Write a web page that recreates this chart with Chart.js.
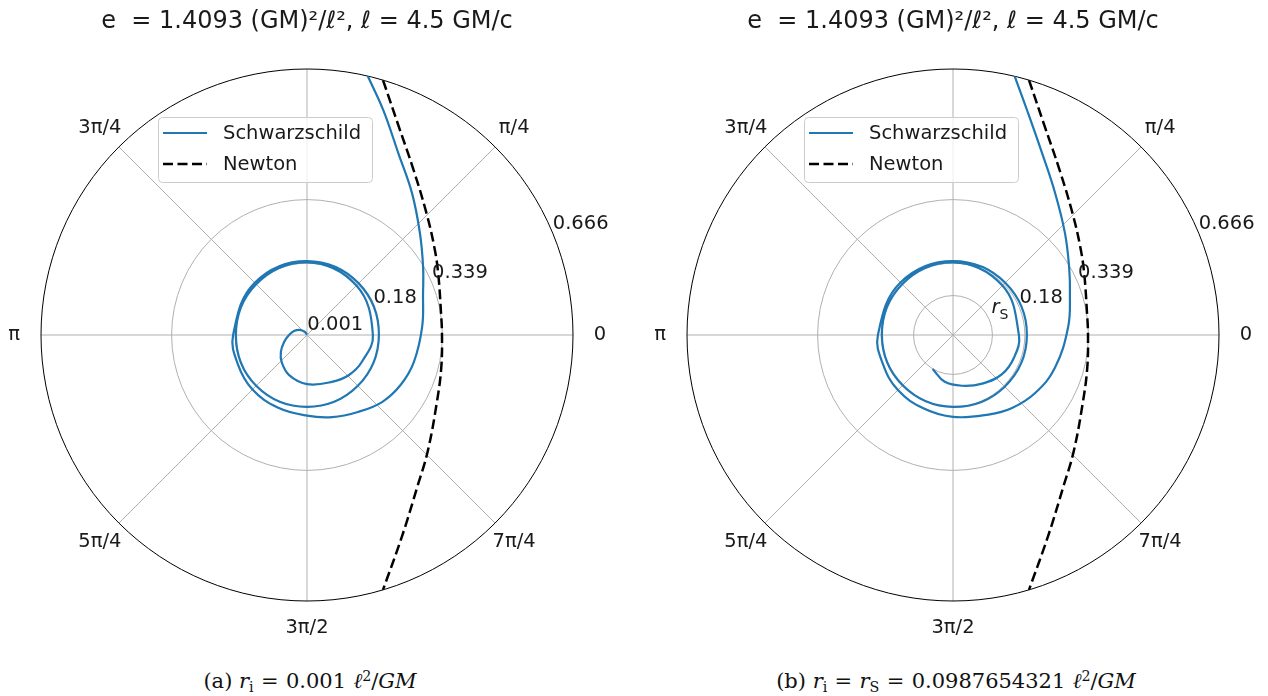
<!DOCTYPE html>
<html>
<head>
<meta charset="utf-8">
<script src="https://cdn.jsdelivr.net/npm/chart.js@4.4.1/dist/chart.umd.min.js"></script>
<style>
  html, body { margin: 0; padding: 0; background: #fff; }
  body { width: 1268px; height: 696px; position: relative; overflow: hidden; }
  .panel { position: absolute; top: 0; width: 620px; height: 640px; }
  .caption { position: absolute; top: 668px; width: 620px; text-align: center;
             font-family: 'DejaVu Serif', 'Liberation Serif', serif; font-size: 21px;
             line-height: 26px; color: #111; white-space: nowrap; }
  .caption sub, .caption sup { font-size: 0.68em; line-height: 0; position: relative; vertical-align: baseline; font-style: normal; }
  .caption sub { top: 0.3em; }
  .caption sup { top: -0.5em; }
  .caption .eq { margin: 0 0.35em; }
  .caption .sp { margin-left: 0.35em; }
</style>
</head>
<body>
<div class="panel" style="left:0"><canvas id="chartA" width="620" height="640"></canvas></div>
<div class="panel" style="left:646px"><canvas id="chartB" width="620" height="640"></canvas></div>
<div class="caption" style="left:0">(a) <i>r</i><sub>i</sub><span class="eq">=</span>0.001<i class="sp">ℓ</i><sup>2</sup>/<i>GM</i></div>
<div class="caption" style="left:646px">(b) <i>r</i><sub>i</sub><span class="eq">=</span><i>r</i><sub>S</sub><span class="eq">=</span>0.0987654321<i class="sp">ℓ</i><sup>2</sup>/<i>GM</i></div>
<script>
// values (angles in degrees, r in units of l^2/GM)
var titleText = 'e  = 1.4093 (GM)²/ℓ², ℓ = 4.5 GM/c';
var rMax = 0.666;
var thetaTicks = [0, 45, 135, 180, 225, 270, 315];
var thetaLabels = ['0', 'π/4', '3π/4', 'π', '5π/4', '3π/2', '7π/4'];
var rTicksA = [0.001, 0.18, 0.339, 0.666];
var rLabelsA = ['0.001', '0.18', '0.339', '0.666'];
var rTicksB = [0.0987654321, 0.18, 0.339, 0.666];
var rLabelsB = ['r_S', '0.18', '0.339', '0.666'];

var newtonTheta = [73.4, 66.4, 57.3, 45.5, 34.5, 25.2, 9.3, 0, -13.7, -27.3, -44.0, -53.7, -64.6, -73.4];
var newtonR = [0.666, 0.572, 0.493, 0.427, 0.387, 0.363, 0.340, 0.338, 0.346, 0.366, 0.420, 0.468, 0.556, 0.666];

var schwThetaA = [76.8, 71.3, 63.4, 53.5, 42.1, 30.4, 19.9, 4.0, -14.3, -27.8, -41.8, -56.5, -73.0, -90,
  -112, -135, -157, -180, -225, -270, -315, -360, -405, -450, -495, -540, -585, -630, -675, -720,
  -746, -764, -782, -810, -834, -853, -867, -883, -900, -917, -936, -956, -975];
var schwRA = [0.666, 0.595, 0.510, 0.442, 0.381, 0.337, 0.309, 0.289, 0.276, 0.266, 0.252, 0.231, 0.215, 0.202,
  0.196, 0.193, 0.188, 0.185, 0.185, 0.185, 0.183, 0.180, 0.180, 0.180, 0.180, 0.178, 0.180, 0.182, 0.175, 0.165,
  0.153, 0.145, 0.133, 0.123, 0.110, 0.093, 0.078, 0.060, 0.045, 0.034, 0.022, 0.009, 0.001];

var schwThetaB = [76.6, 71.8, 63.9, 54.3, 42.3, 30.4, 19.7, 4.0, -18, -35, -51, -66, -90,
  -112, -135, -157, -180, -225, -270, -315, -360, -405, -450, -495, -540, -585, -630, -675, -720,
  -740, -759, -779, -800, -820, -841];
var schwRB = [0.666, 0.593, 0.507, 0.438, 0.379, 0.337, 0.311, 0.289, 0.268, 0.252, 0.235, 0.218, 0.205,
  0.198, 0.195, 0.190, 0.188, 0.186, 0.185, 0.185, 0.185, 0.183, 0.180, 0.178, 0.178, 0.180, 0.182, 0.175, 0.165,
  0.163, 0.157, 0.142, 0.129, 0.119, 0.099];

function toXY(thetas, rs) {
  return thetas.map(function (t, i) {
    var a = t * Math.PI / 180;
    return { x: rs[i] * Math.cos(a), y: rs[i] * Math.sin(a) };
  });
}

var FONT = 'DejaVu Sans';
var TXT = '#1a1a1a';

var polarFrame = {
  id: 'polarFrame',
  beforeDatasetsDraw: function (chart, args, opts) {
    var ctx = chart.ctx, xs = chart.scales.x, ys = chart.scales.y;
    var cx = xs.getPixelForValue(0), cy = ys.getPixelForValue(0);
    var R = xs.getPixelForValue(rMax) - cx;
    ctx.save();
    ctx.strokeStyle = '#b0b0b0';
    ctx.lineWidth = 1;
    for (var a = 0; a < 360; a += 45) {
      var rad = a * Math.PI / 180;
      ctx.beginPath();
      ctx.moveTo(cx, cy);
      ctx.lineTo(cx + R * Math.cos(rad), cy - R * Math.sin(rad));
      ctx.stroke();
    }
    opts.rTicks.forEach(function (t) {
      if (t >= rMax) return;
      ctx.beginPath();
      ctx.arc(cx, cy, xs.getPixelForValue(t) - cx, 0, 2 * Math.PI);
      ctx.stroke();
    });
    ctx.strokeStyle = '#000';
    ctx.beginPath();
    ctx.arc(cx, cy, R, 0, 2 * Math.PI);
    ctx.stroke();
    ctx.restore();
    // clip the curves to the outer circle
    ctx.save();
    ctx.beginPath();
    ctx.arc(cx, cy, R, 0, 2 * Math.PI);
    ctx.clip();
  },
  afterDatasetsDraw: function (chart, args, opts) {
    var ctx = chart.ctx, xs = chart.scales.x, ys = chart.scales.y;
    ctx.restore();
    var cx = xs.getPixelForValue(0), cy = ys.getPixelForValue(0);
    var R = xs.getPixelForValue(rMax) - cx;
    ctx.save();
    ctx.fillStyle = TXT;
    ctx.font = '19.5px "' + FONT + '"';
    ctx.textAlign = 'center';
    ctx.textBaseline = 'middle';
    thetaTicks.forEach(function (t, i) {
      var rad = t * Math.PI / 180, d = R + 27;
      ctx.fillText(thetaLabels[i], cx + d * Math.cos(rad), cy - d * Math.sin(rad));
    });
    // radial labels along 22.5 deg
    ctx.textAlign = 'left';
    ctx.textBaseline = 'bottom';
    var la = 22.5 * Math.PI / 180;
    opts.rTicks.forEach(function (t, i) {
      var d = xs.getPixelForValue(t) - cx;
      var px = cx + d * Math.cos(la), py = cy - d * Math.sin(la);
      var lab = opts.rLabels[i];
      if (lab.indexOf('_') > 0) {
        var parts = lab.split('_');
        ctx.font = 'italic 19.5px "' + FONT + '"';
        ctx.fillText(parts[0], px + 2, py - 2);
        var w = ctx.measureText(parts[0]).width;
        ctx.font = '14px "' + FONT + '"';
        ctx.fillText(parts[1], px + 2 + w, py + 2);
        ctx.font = '19.5px "' + FONT + '"';
      } else {
        ctx.fillText(lab, px, py);
      }
    });
    // legend box
    var ca = chart.chartArea;
    var bx = ca.left + 117, by = ca.top + 48, bw = 214, bh = 65;
    ctx.beginPath();
    ctx.roundRect(bx + 0.5, by + 0.5, bw, bh, 4);
    ctx.fillStyle = 'rgba(255,255,255,0.8)';
    ctx.fill();
    ctx.strokeStyle = '#cccccc';
    ctx.lineWidth = 1;
    ctx.stroke();
    ctx.textAlign = 'left';
    ctx.textBaseline = 'middle';
    chart.data.datasets.forEach(function (ds, i) {
      var yy = by + 16 + i * 31;
      ctx.strokeStyle = ds.borderColor;
      ctx.lineWidth = ds.borderWidth;
      ctx.setLineDash(ds.borderDash || []);
      ctx.beginPath();
      ctx.moveTo(bx + 5, yy);
      ctx.lineTo(bx + 49, yy);
      ctx.stroke();
      ctx.setLineDash([]);
      ctx.fillStyle = TXT;
      ctx.fillText(ds.label, bx + 65, yy + 1);
    });
    ctx.restore();
  }
};

function makeChart(id, schwTheta, schwR, rTicks, rLabels) {
  return new Chart(document.getElementById(id), {
    type: 'line',
    data: {
      datasets: [{
        label: 'Schwarzschild',
        data: toXY(schwTheta, schwR),
        borderColor: '#1f77b4',
        borderWidth: 2.2,
        pointRadius: 0,
        tension: 0.4,
        fill: false
      }, {
        label: 'Newton',
        data: toXY(newtonTheta, newtonR),
        borderColor: '#000000',
        borderWidth: 2.5,
        borderDash: [10, 4.5],
        pointRadius: 0,
        tension: 0.4,
        fill: false
      }]
    },
    plugins: [polarFrame],
    options: {
      responsive: false,
      animation: false,
      layout: { padding: { left: 41, right: 47, top: 0, bottom: 39 } },
      scales: {
        x: { type: 'linear', min: -rMax, max: rMax, display: false },
        y: { type: 'linear', min: -rMax, max: rMax, display: false }
      },
      plugins: {
        legend: { display: false },
        tooltip: { enabled: false },
        title: {
          display: true,
          text: titleText,
          color: TXT,
          font: { family: FONT, size: 24, weight: 'normal' },
          padding: { top: 7, bottom: 33.2 }
        },
        polarFrame: { rTicks: rTicks, rLabels: rLabels }
      }
    }
  });
}

makeChart('chartA', schwThetaA, schwRA, rTicksA, rLabelsA);
makeChart('chartB', schwThetaB, schwRB, rTicksB, rLabelsB);
</script>
</body>
</html>
